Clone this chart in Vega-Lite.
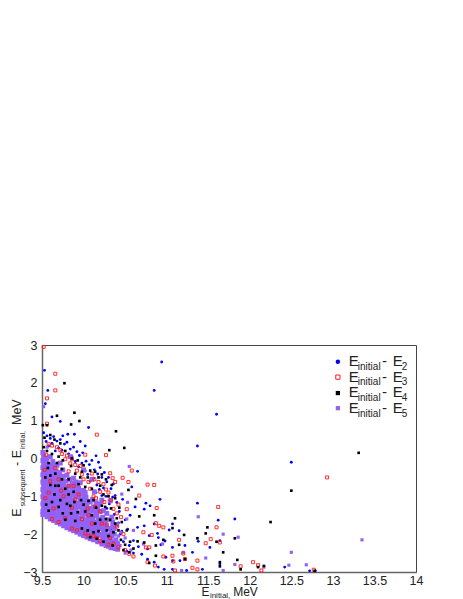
{"$schema":"https://vega.github.io/schema/vega-lite/v6.json","width":374,"height":227,"autosize":"none","padding":{"left":42,"top":345,"right":47,"bottom":27},"background":"white","config":{"view":{"stroke":"#444","strokeWidth":1},"font":"Liberation Sans"},
"datasets":{
"e2":[{"x":10.94,"y":2.55},{"x":10.85,"y":1.8},{"x":11.6,"y":1.17},{"x":11.37,"y":0.33},{"x":9.53,"y":2.33},{"x":9.57,"y":1.8},{"x":9.54,"y":1.45},{"x":9.62,"y":1.1},{"x":9.72,"y":0.98},{"x":10.06,"y":0.82},{"x":9.89,"y":0.64},{"x":9.81,"y":0.64},{"x":9.75,"y":0.6},{"x":9.96,"y":0.45},{"x":10.02,"y":0.33},{"x":10.15,"y":0.07},{"x":10.18,"y":-0.1},{"x":10.65,"y":-0.34},{"x":10.75,"y":-1.18},{"x":10.92,"y":-1.08},{"x":10.8,"y":-1.25},{"x":10.73,"y":-1.34},{"x":11.37,"y":-1.18},{"x":11.62,"y":-1.63},{"x":11.07,"y":-1.73},{"x":11.03,"y":-1.89},{"x":10.85,"y":-1.73},{"x":10.89,"y":-1.98},{"x":10.73,"y":-1.78},{"x":10.65,"y":-1.82},{"x":10.79,"y":-2.04},{"x":10.9,"y":-2.09},{"x":10.98,"y":-2.18},{"x":10.93,"y":-2.28},{"x":11.15,"y":-1.91},{"x":11.22,"y":-2.3},{"x":11.07,"y":-2.35},{"x":11.31,"y":-2.48},{"x":11.38,"y":-2.19},{"x":11.52,"y":-2.35},{"x":11.64,"y":-2.17},{"x":10.77,"y":-2.39},{"x":10.7,"y":-2.53},{"x":10.77,"y":-2.66},{"x":10.99,"y":-2.61},{"x":10.85,"y":-2.74},{"x":10.9,"y":-2.87},{"x":11.07,"y":-2.7},{"x":11.16,"y":-2.7},{"x":11.07,"y":-2.93},{"x":11.24,"y":-2.96},{"x":11.43,"y":-2.93},{"x":11.64,"y":-2.79},{"x":10.97,"y":-2.93},{"x":12.5,"y":-0.1},{"x":11.82,"y":-1.6},{"x":12.42,"y":-2.87},{"x":12.72,"y":-2.97},{"x":12.79,"y":-2.97},{"x":9.52,"y":0.68},{"x":9.56,"y":0.6},{"x":9.6,"y":0.53},{"x":9.64,"y":0.58},{"x":9.68,"y":0.46},{"x":9.72,"y":0.5},{"x":9.77,"y":0.38},{"x":9.8,"y":0.43},{"x":9.84,"y":0.25},{"x":9.88,"y":0.3},{"x":9.92,"y":0.18},{"x":9.95,"y":0.08},{"x":9.99,"y":0.15},{"x":10.03,"y":-0.07},{"x":10.07,"y":-0.16},{"x":10.1,"y":-0.05},{"x":10.13,"y":-0.3},{"x":10.17,"y":-0.41},{"x":10.2,"y":-0.24},{"x":10.22,"y":-0.5},{"x":10.25,"y":-0.37},{"x":10.28,"y":-0.62},{"x":10.3,"y":-0.5},{"x":10.33,"y":-0.8},{"x":10.36,"y":-0.67},{"x":10.38,"y":-0.98},{"x":10.4,"y":-1.16},{"x":10.43,"y":-1.4},{"x":10.47,"y":-1.08},{"x":10.5,"y":-1.62},{"x":10.53,"y":-1.87},{"x":10.56,"y":-1.5},{"x":10.6,"y":-2.17},{"x":10.62,"y":-1.28},{"x":10.66,"y":-2.33},{"x":10.44,"y":-2.0},{"x":10.4,"y":-2.26},{"x":10.34,"y":-1.86},{"x":10.28,"y":-1.32},{"x":10.22,"y":-0.98},{"x":10.16,"y":-0.7},{"x":10.52,"y":-2.45},{"x":10.6,"y":-2.5},{"x":10.58,"y":-0.75},{"x":9.58,"y":0.33},{"x":9.7,"y":0.28},{"x":9.74,"y":0.22},{"x":9.82,"y":0.12},{"x":9.86,"y":0.05},{"x":9.9,"y":-0.08},{"x":9.94,"y":-0.22},{"x":9.98,"y":-0.12},{"x":10.02,"y":-0.33},{"x":10.05,"y":-0.42},{"x":10.08,"y":-0.6},{"x":10.12,"y":-0.52},{"x":10.15,"y":-0.9},{"x":10.19,"y":-0.82},{"x":10.24,"y":-0.78},{"x":10.27,"y":-1.0},{"x":10.31,"y":-1.2},{"x":10.35,"y":-1.02},{"x":10.37,"y":-1.48},{"x":10.42,"y":-1.7},{"x":10.46,"y":-1.92},{"x":10.48,"y":-2.2},{"x":10.55,"y":-2.3},{"x":9.55,"y":0.45},{"x":9.62,"y":0.4},{"x":9.66,"y":0.2}],
"e5":[{"x":9.51,"y":-1.48},{"x":9.51,"y":-1.39},{"x":9.52,"y":-1.3},{"x":9.51,"y":-1.2},{"x":9.52,"y":-1.1},{"x":9.51,"y":-1.01},{"x":9.52,"y":-0.91},{"x":9.51,"y":-0.82},{"x":9.52,"y":-0.72},{"x":9.51,"y":-0.62},{"x":9.52,"y":-0.53},{"x":9.51,"y":-0.43},{"x":9.52,"y":-0.34},{"x":9.51,"y":-0.24},{"x":9.52,"y":-0.14},{"x":9.51,"y":-0.05},{"x":9.52,"y":0.06},{"x":9.51,"y":0.16},{"x":9.56,"y":-1.54},{"x":9.55,"y":-1.45},{"x":9.56,"y":-1.35},{"x":9.55,"y":-1.26},{"x":9.56,"y":-1.16},{"x":9.55,"y":-1.06},{"x":9.56,"y":-0.97},{"x":9.55,"y":-0.87},{"x":9.56,"y":-0.78},{"x":9.55,"y":-0.68},{"x":9.56,"y":-0.58},{"x":9.55,"y":-0.49},{"x":9.56,"y":-0.39},{"x":9.55,"y":-0.3},{"x":9.56,"y":-0.2},{"x":9.55,"y":-0.1},{"x":9.56,"y":0.0},{"x":9.6,"y":-1.6},{"x":9.6,"y":-1.51},{"x":9.59,"y":-1.41},{"x":9.6,"y":-1.31},{"x":9.59,"y":-1.22},{"x":9.6,"y":-1.12},{"x":9.59,"y":-1.03},{"x":9.6,"y":-0.93},{"x":9.59,"y":-0.83},{"x":9.6,"y":-0.74},{"x":9.59,"y":-0.64},{"x":9.6,"y":-0.55},{"x":9.59,"y":-0.45},{"x":9.6,"y":-0.35},{"x":9.59,"y":-0.26},{"x":9.6,"y":-0.16},{"x":9.6,"y":0.05},{"x":9.64,"y":-1.64},{"x":9.64,"y":-1.55},{"x":9.63,"y":-1.45},{"x":9.64,"y":-1.36},{"x":9.63,"y":-1.26},{"x":9.64,"y":-1.16},{"x":9.63,"y":-1.07},{"x":9.64,"y":-0.97},{"x":9.63,"y":-0.88},{"x":9.64,"y":-0.78},{"x":9.63,"y":-0.68},{"x":9.64,"y":-0.59},{"x":9.63,"y":-0.49},{"x":9.64,"y":-0.4},{"x":9.63,"y":-0.3},{"x":9.64,"y":-0.2},{"x":9.63,"y":-0.08},{"x":9.68,"y":-1.69},{"x":9.68,"y":-1.6},{"x":9.67,"y":-1.5},{"x":9.68,"y":-1.4},{"x":9.67,"y":-1.31},{"x":9.68,"y":-1.21},{"x":9.67,"y":-1.12},{"x":9.68,"y":-1.02},{"x":9.67,"y":-0.92},{"x":9.68,"y":-0.83},{"x":9.67,"y":-0.73},{"x":9.68,"y":-0.64},{"x":9.67,"y":-0.54},{"x":9.68,"y":-0.44},{"x":9.67,"y":-0.33},{"x":9.68,"y":-0.18},{"x":9.72,"y":-1.73},{"x":9.72,"y":-1.64},{"x":9.71,"y":-1.54},{"x":9.72,"y":-1.44},{"x":9.71,"y":-1.35},{"x":9.72,"y":-1.25},{"x":9.71,"y":-1.16},{"x":9.72,"y":-1.06},{"x":9.71,"y":-0.96},{"x":9.72,"y":-0.87},{"x":9.71,"y":-0.77},{"x":9.72,"y":-0.68},{"x":9.71,"y":-0.58},{"x":9.72,"y":-0.48},{"x":9.71,"y":-0.37},{"x":9.72,"y":-0.12},{"x":9.76,"y":-1.78},{"x":9.76,"y":-1.69},{"x":9.75,"y":-1.59},{"x":9.76,"y":-1.49},{"x":9.75,"y":-1.4},{"x":9.76,"y":-1.3},{"x":9.75,"y":-1.21},{"x":9.76,"y":-1.11},{"x":9.75,"y":-1.01},{"x":9.76,"y":-0.92},{"x":9.75,"y":-0.82},{"x":9.76,"y":-0.72},{"x":9.75,"y":-0.6},{"x":9.76,"y":-0.47},{"x":9.75,"y":-0.3},{"x":9.8,"y":-1.83},{"x":9.8,"y":-1.73},{"x":9.79,"y":-1.64},{"x":9.8,"y":-1.54},{"x":9.79,"y":-1.44},{"x":9.8,"y":-1.35},{"x":9.79,"y":-1.25},{"x":9.8,"y":-1.16},{"x":9.79,"y":-1.06},{"x":9.8,"y":-0.96},{"x":9.79,"y":-0.87},{"x":9.8,"y":-0.75},{"x":9.79,"y":-0.6},{"x":9.8,"y":-0.44},{"x":9.84,"y":-1.87},{"x":9.84,"y":-1.77},{"x":9.83,"y":-1.68},{"x":9.84,"y":-1.58},{"x":9.83,"y":-1.49},{"x":9.84,"y":-1.39},{"x":9.83,"y":-1.29},{"x":9.84,"y":-1.2},{"x":9.83,"y":-1.1},{"x":9.84,"y":-1.0},{"x":9.83,"y":-0.88},{"x":9.84,"y":-0.74},{"x":9.83,"y":-0.55},{"x":9.88,"y":-1.91},{"x":9.88,"y":-1.82},{"x":9.87,"y":-1.72},{"x":9.88,"y":-1.62},{"x":9.87,"y":-1.53},{"x":9.88,"y":-1.43},{"x":9.87,"y":-1.33},{"x":9.88,"y":-1.22},{"x":9.87,"y":-1.1},{"x":9.88,"y":-0.96},{"x":9.87,"y":-0.8},{"x":9.88,"y":-0.52},{"x":9.92,"y":-1.95},{"x":9.92,"y":-1.86},{"x":9.91,"y":-1.76},{"x":9.92,"y":-1.67},{"x":9.91,"y":-1.56},{"x":9.92,"y":-1.45},{"x":9.91,"y":-1.32},{"x":9.92,"y":-1.18},{"x":9.91,"y":-1.02},{"x":9.92,"y":-0.85},{"x":9.91,"y":-0.62},{"x":9.96,"y":-2.0},{"x":9.96,"y":-1.9},{"x":9.95,"y":-1.8},{"x":9.96,"y":-1.69},{"x":9.95,"y":-1.58},{"x":9.96,"y":-1.44},{"x":9.95,"y":-1.28},{"x":9.96,"y":-1.1},{"x":9.95,"y":-0.92},{"x":9.96,"y":-0.64},{"x":10.0,"y":-2.04},{"x":10.0,"y":-1.94},{"x":9.99,"y":-1.83},{"x":10.0,"y":-1.7},{"x":9.99,"y":-1.55},{"x":10.0,"y":-1.38},{"x":9.99,"y":-1.2},{"x":10.0,"y":-0.98},{"x":10.04,"y":-2.08},{"x":10.04,"y":-1.97},{"x":10.03,"y":-1.82},{"x":10.04,"y":-1.65},{"x":10.03,"y":-1.46},{"x":10.04,"y":-1.24},{"x":10.03,"y":-1.02},{"x":10.08,"y":-2.12},{"x":10.08,"y":-2.02},{"x":10.07,"y":-1.86},{"x":10.08,"y":-1.68},{"x":10.07,"y":-1.45},{"x":10.08,"y":-1.15},{"x":10.12,"y":-2.15},{"x":10.13,"y":-2.0},{"x":10.12,"y":-1.78},{"x":10.13,"y":-1.52},{"x":10.12,"y":-1.28},{"x":10.13,"y":-0.88},{"x":10.17,"y":-2.2},{"x":10.18,"y":-2.03},{"x":10.17,"y":-1.83},{"x":10.18,"y":-1.6},{"x":10.17,"y":-1.3},{"x":10.22,"y":-2.26},{"x":10.23,"y":-2.08},{"x":10.22,"y":-1.85},{"x":10.23,"y":-1.55},{"x":10.22,"y":-1.1},{"x":10.27,"y":-2.3},{"x":10.28,"y":-2.1},{"x":10.27,"y":-1.78},{"x":10.28,"y":-1.45},{"x":10.33,"y":-2.36},{"x":10.32,"y":-2.16},{"x":10.33,"y":-1.94},{"x":10.34,"y":-1.55},{"x":10.32,"y":-1.12},{"x":10.38,"y":-2.38},{"x":10.39,"y":-2.15},{"x":10.4,"y":-1.75},{"x":10.44,"y":-2.3},{"x":10.45,"y":-1.95},{"x":10.46,"y":-0.94},{"x":10.5,"y":-2.5},{"x":10.5,"y":-2.1},{"x":10.53,"y":-1.16},{"x":10.55,"y":-0.21},{"x":10.57,"y":-2.42},{"x":10.6,"y":-1.9},{"x":10.52,"y":-1.6},{"x":11.38,"y":-1.54},{"x":11.47,"y":-2.63},{"x":11.2,"y":-2.48},{"x":11.68,"y":-2.96},{"x":11.68,"y":-2},{"x":10.95,"y":-2.26},{"x":10.72,"y":-2.26},{"x":11.18,"y":-2.96},{"x":11.86,"y":-2.08},{"x":12.5,"y":-2.48},{"x":13.35,"y":-2.15},{"x":11.82,"y":-2.8},{"x":12.17,"y":-2.87},{"x":12.47,"y":-2.82},{"x":12.68,"y":-2.81},{"x":9.52,"y":1.37},{"x":9.56,"y":0.3},{"x":9.84,"y":0.05},{"x":10.0,"y":-0.3},{"x":10.1,"y":-0.55},{"x":10.01,"y":-1.12},{"x":10.0,"y":-0.85},{"x":10.01,"y":-1.3},{"x":10.01,"y":-1.47},{"x":10.02,"y":-1.62},{"x":10.01,"y":-1.77},{"x":10.05,"y":-1.92},{"x":10.05,"y":-1.74},{"x":10.06,"y":-1.55},{"x":10.05,"y":-1.35},{"x":10.06,"y":-1.13},{"x":10.09,"y":-1.94},{"x":10.09,"y":-1.77},{"x":10.09,"y":-1.57},{"x":10.09,"y":-1.32},{"x":10.11,"y":-2.06},{"x":10.11,"y":-1.88},{"x":10.11,"y":-1.62},{"x":10.11,"y":-1.38},{"x":10.11,"y":-1.08},{"x":10.15,"y":-2.08},{"x":10.15,"y":-1.9},{"x":10.15,"y":-1.68},{"x":10.15,"y":-1.42},{"x":10.15,"y":-1.17},{"x":10.16,"y":-2.14},{"x":10.16,"y":-1.95},{"x":10.16,"y":-1.74},{"x":10.16,"y":-1.5},{"x":10.2,"y":-2.2},{"x":10.2,"y":-2.0},{"x":10.2,"y":-1.78},{"x":10.2,"y":-1.68},{"x":10.2,"y":-1.4},{"x":10.2,"y":-1.2},{"x":10.24,"y":-2.18},{"x":10.24,"y":-1.98},{"x":10.24,"y":-1.72},{"x":10.24,"y":-1.62},{"x":10.24,"y":-1.38},{"x":10.26,"y":-2.24},{"x":10.26,"y":-2.0},{"x":10.26,"y":-1.88},{"x":10.26,"y":-1.65},{"x":10.3,"y":-2.32},{"x":10.3,"y":-2.2},{"x":10.3,"y":-2.02},{"x":10.3,"y":-1.85},{"x":10.3,"y":-1.62},{"x":10.34,"y":-2.26},{"x":10.34,"y":-2.05},{"x":10.35,"y":-1.8},{"x":10.35,"y":-1.68},{"x":10.36,"y":-2.35},{"x":10.37,"y":-2.2},{"x":10.37,"y":-2.0},{"x":10.37,"y":-1.85},{"x":10.41,"y":-2.4},{"x":10.41,"y":-2.25},{"x":10.42,"y":-2.05},{"x":9.86,"y":-0.95},{"x":9.86,"y":-0.65},{"x":9.9,"y":-1.2},{"x":9.9,"y":-0.92},{"x":9.9,"y":-0.72},{"x":9.94,"y":-1.22},{"x":9.94,"y":-1.0},{"x":9.94,"y":-0.78},{"x":9.98,"y":-1.32},{"x":9.98,"y":-1.08},{"x":9.98,"y":-0.85},{"x":10.02,"y":-0.9}],
"e3":[{"x":9.52,"y":2.95},{"x":9.66,"y":2.24},{"x":9.66,"y":1.8},{"x":9.56,"y":1.59},{"x":9.56,"y":0.92},{"x":10.16,"y":0.63},{"x":10.27,"y":0.09},{"x":10.32,"y":-0.39},{"x":10.47,"y":-0.51},{"x":10.58,"y":-0.32},{"x":10.54,"y":-0.62},{"x":10.77,"y":-0.69},{"x":10.85,"y":-0.7},{"x":10.67,"y":-0.98},{"x":10.88,"y":-1.31},{"x":11.62,"y":-1.28},{"x":10.52,"y":-1.34},{"x":11.6,"y":-1.82},{"x":10.87,"y":-1.71},{"x":10.91,"y":-1.78},{"x":10.96,"y":-1.82},{"x":10.72,"y":-1.95},{"x":10.82,"y":-2.02},{"x":11.15,"y":-2.15},{"x":11.53,"y":-2.13},{"x":11.47,"y":-2.24},{"x":11.64,"y":-2.22},{"x":10.75,"y":-2.35},{"x":10.79,"y":-2.35},{"x":10.96,"y":-2.59},{"x":11.07,"y":-2.57},{"x":11.08,"y":-2.72},{"x":11.22,"y":-2.66},{"x":11.2,"y":-2.51},{"x":11.37,"y":-2.7},{"x":10.77,"y":-2.74},{"x":10.86,"y":-2.83},{"x":11.1,"y":-2.96},{"x":11.31,"y":-2.89},{"x":11.37,"y":-2.93},{"x":10.6,"y":-2.59},{"x":10.5,"y":-2.42},{"x":12.93,"y":-0.5},{"x":11.89,"y":-2.85},{"x":12.04,"y":-2.74},{"x":12.1,"y":-2.82},{"x":12.14,"y":-2.96},{"x":12.77,"y":-2.94},{"x":9.58,"y":0.38},{"x":9.62,"y":0.34},{"x":9.68,"y":0.3},{"x":9.74,"y":0.12},{"x":9.8,"y":0.08},{"x":9.86,"y":-0.02},{"x":9.9,"y":-0.17},{"x":9.96,"y":-0.2},{"x":10.02,"y":0.1},{"x":10.1,"y":-0.4},{"x":10.18,"y":-0.62},{"x":10.24,"y":-0.68},{"x":10.35,"y":-0.52},{"x":10.38,"y":-0.62},{"x":10.42,"y":-1.22},{"x":10.45,"y":-1.55},{"x":10.3,"y":-0.9},{"x":10.15,"y":-1.05},{"x":10.12,"y":-1.0},{"x":10.08,"y":-0.8},{"x":10.05,"y":-1.32},{"x":9.98,"y":-0.42},{"x":9.94,"y":-0.95},{"x":9.88,"y":-0.72},{"x":9.82,"y":-0.34},{"x":9.76,"y":-1.0},{"x":9.7,"y":-0.55},{"x":9.64,"y":-1.32},{"x":9.58,"y":-0.9},{"x":9.53,"y":-0.3},{"x":9.55,"y":0.1},{"x":9.78,"y":-1.58},{"x":9.92,"y":-1.9},{"x":10.02,"y":-1.98},{"x":10.12,"y":-2.05},{"x":10.2,"y":-2.18},{"x":10.3,"y":-2.28},{"x":10.36,"y":-2.25},{"x":10.42,"y":-2.35},{"x":10.55,"y":-2.52},{"x":10.48,"y":-2.0},{"x":10.28,"y":-1.75},{"x":10.2,"y":-1.4},{"x":10.1,"y":-1.72},{"x":9.98,"y":-1.6},{"x":9.86,"y":-1.3},{"x":10.4,"y":-1.8},{"x":10.36,"y":-1.33},{"x":10.25,"y":-1.15},{"x":9.72,"y":0.22},{"x":9.78,"y":-0.02},{"x":9.84,"y":-0.13},{"x":9.92,"y":-0.32},{"x":10.0,"y":-0.55},{"x":10.06,"y":-0.62},{"x":10.13,"y":-0.55},{"x":10.2,"y":-0.88},{"x":10.27,"y":-0.82},{"x":10.33,"y":-1.1},{"x":10.4,"y":-1.45},{"x":10.14,"y":-1.28},{"x":10.22,"y":-1.72},{"x":10.32,"y":-2.1},{"x":10.16,"y":-2.1},{"x":10.06,"y":-1.5},{"x":9.9,"y":-1.08},{"x":9.82,"y":-0.72},{"x":9.73,"y":-0.85},{"x":9.66,"y":-0.25},{"x":9.6,"y":-0.6},{"x":9.54,"y":-1.05},{"x":9.62,"y":-1.6},{"x":9.7,"y":-1.68},{"x":9.86,"y":-1.85},{"x":10.06,"y":-2.05}],
"e4":[{"x":9.77,"y":1.99},{"x":9.89,"y":1.21},{"x":9.68,"y":1.13},{"x":9.95,"y":0.99},{"x":9.85,"y":0.9},{"x":9.56,"y":0.88},{"x":9.51,"y":0.88},{"x":10.39,"y":0.72},{"x":10.49,"y":0.28},{"x":10.31,"y":0.22},{"x":10.63,"y":-1.07},{"x":10.54,"y":-0.83},{"x":10.85,"y":-1.5},{"x":10.67,"y":-1.53},{"x":11.1,"y":-1.58},{"x":11.49,"y":-1.82},{"x":11.21,"y":-2.02},{"x":11.37,"y":-2.11},{"x":11.07,"y":-1.84},{"x":11.47,"y":-1.98},{"x":10.96,"y":-2.15},{"x":11.6,"y":-2.2},{"x":11.15,"y":-2.28},{"x":10.87,"y":-2.3},{"x":11.68,"y":-2.48},{"x":11.64,"y":-2.74},{"x":11.64,"y":-2.85},{"x":10.87,"y":-2.57},{"x":10.79,"y":-2.76},{"x":11.22,"y":-2.66},{"x":10.73,"y":-2.22},{"x":10.65,"y":-2.19},{"x":13.31,"y":0.15},{"x":12.5,"y":-0.85},{"x":12.25,"y":-1.68},{"x":11.82,"y":-2.11},{"x":11.85,"y":-2.68},{"x":11.89,"y":-2.93},{"x":12.1,"y":-2.87},{"x":12.17,"y":-2.84},{"x":12.78,"y":-2.97},{"x":9.53,"y":0.55},{"x":9.6,"y":0.62},{"x":9.65,"y":0.5},{"x":9.72,"y":0.4},{"x":9.78,"y":0.2},{"x":9.7,"y":0.05},{"x":9.62,"y":0.12},{"x":9.54,"y":-0.5},{"x":9.6,"y":-0.7},{"x":9.57,"y":-0.25},{"x":9.65,"y":-0.95},{"x":9.7,"y":-0.72},{"x":9.66,"y":-0.4},{"x":9.74,"y":-0.28},{"x":9.78,"y":-0.8},{"x":9.82,"y":-0.55},{"x":9.85,"y":-0.2},{"x":9.9,"y":-0.4},{"x":9.93,"y":-0.05},{"x":9.96,"y":-0.5},{"x":10.0,"y":-0.18},{"x":10.05,"y":-0.5},{"x":10.1,"y":-0.8},{"x":10.14,"y":-0.35},{"x":10.2,"y":-0.72},{"x":10.22,"y":-0.42},{"x":10.27,"y":-0.55},{"x":10.3,"y":-1.0},{"x":10.34,"y":-0.7},{"x":10.38,"y":-1.05},{"x":10.43,"y":-1.3},{"x":10.4,"y":-1.58},{"x":10.46,"y":-1.68},{"x":10.52,"y":-1.9},{"x":10.56,"y":-2.2},{"x":10.5,"y":-2.28},{"x":10.55,"y":-2.48},{"x":10.6,"y":-2.38},{"x":10.45,"y":-2.15},{"x":10.36,"y":-1.95},{"x":10.32,"y":-1.62},{"x":10.26,"y":-1.28},{"x":10.2,"y":-1.62},{"x":10.15,"y":-1.3},{"x":10.1,"y":-1.5},{"x":10.06,"y":-1.12},{"x":10.02,"y":-1.4},{"x":9.97,"y":-1.1},{"x":9.93,"y":-1.42},{"x":9.89,"y":-1.15},{"x":9.85,"y":-1.45},{"x":9.8,"y":-1.2},{"x":9.75,"y":-1.45},{"x":9.7,"y":-1.28},{"x":9.62,"y":-1.15},{"x":9.55,"y":-1.22},{"x":9.58,"y":-1.38},{"x":9.9,"y":-1.65},{"x":9.98,"y":-1.85},{"x":10.05,"y":-1.9},{"x":10.12,"y":-1.95},{"x":10.18,"y":-1.92},{"x":10.24,"y":-2.2},{"x":10.3,"y":-2.05},{"x":10.35,"y":-2.3},{"x":10.28,"y":-1.9},{"x":10.16,"y":-2.12},{"x":10.08,"y":-2.08},{"x":9.82,"y":-0.95},{"x":9.74,"y":-0.55},{"x":9.68,"y":-0.12},{"x":9.6,"y":-0.45},{"x":9.52,"y":0.3},{"x":9.56,"y":0.2},{"x":9.75,"y":-0.05},{"x":9.86,"y":0.0},{"x":9.98,"y":-0.35},{"x":10.08,"y":-0.32},{"x":10.18,"y":-0.5},{"x":10.24,"y":-0.95},{"x":10.33,"y":-1.32},{"x":10.38,"y":-1.72},{"x":10.12,"y":-1.1},{"x":10.02,"y":-0.75},{"x":9.94,"y":-0.68},{"x":9.88,"y":-0.88},{"x":9.84,"y":-1.25},{"x":9.78,"y":-1.62},{"x":9.66,"y":-0.72},{"x":9.58,"y":-0.12},{"x":9.72,"y":-1.1},{"x":10.0,"y":-1.22},{"x":10.22,"y":-1.25},{"x":10.14,"y":-1.72},{"x":10.27,"y":-1.6},{"x":10.42,"y":-1.9},{"x":10.48,"y":-2.42}],
"majorx":[{"x":9.5},{"x":10},{"x":10.5},{"x":11},{"x":11.5},{"x":12},{"x":12.5},{"x":13},{"x":13.5},{"x":14}],
"majory":[{"y":-3},{"y":-2},{"y":-1},{"y":0},{"y":1},{"y":2},{"y":3}],
"minorx":[{"x":9.6},{"x":9.7},{"x":9.8},{"x":9.9},{"x":10.1},{"x":10.2},{"x":10.3},{"x":10.4},{"x":10.6},{"x":10.7},{"x":10.8},{"x":10.9},{"x":11.1},{"x":11.2},{"x":11.3},{"x":11.4},{"x":11.6},{"x":11.7},{"x":11.8},{"x":11.9},{"x":12.1},{"x":12.2},{"x":12.3},{"x":12.4},{"x":12.6},{"x":12.7},{"x":12.8},{"x":12.9},{"x":13.1},{"x":13.2},{"x":13.3},{"x":13.4},{"x":13.6},{"x":13.7},{"x":13.8},{"x":13.9}],
"minory":[{"y":2.8},{"y":2.6},{"y":2.4},{"y":2.2},{"y":1.8},{"y":1.6},{"y":1.4},{"y":1.2},{"y":0.8},{"y":0.6},{"y":0.4},{"y":0.2},{"y":-0.2},{"y":-0.4},{"y":-0.6},{"y":-0.8},{"y":-1.2},{"y":-1.4},{"y":-1.6},{"y":-1.8},{"y":-2.2},{"y":-2.4},{"y":-2.6},{"y":-2.8}],
"big":[{"x":13.19,"y":2.445,"t":"E"},{"x":13.59,"y":2.445,"t":"-"},{"x":13.72,"y":2.445,"t":"E"},{"x":13.19,"y":2.035,"t":"E"},{"x":13.59,"y":2.035,"t":"-"},{"x":13.72,"y":2.035,"t":"E"},{"x":13.19,"y":1.625,"t":"E"},{"x":13.59,"y":1.625,"t":"-"},{"x":13.72,"y":1.625,"t":"E"},{"x":13.19,"y":1.215,"t":"E"},{"x":13.59,"y":1.215,"t":"-"},{"x":13.72,"y":1.215,"t":"E"}],
"sub":[{"x":13.3,"y":2.34,"t":"initial"},{"x":13.83,"y":2.34,"t":"2"},{"x":13.3,"y":1.93,"t":"initial"},{"x":13.83,"y":1.93,"t":"3"},{"x":13.3,"y":1.52,"t":"initial"},{"x":13.83,"y":1.52,"t":"4"},{"x":13.3,"y":1.11,"t":"initial"},{"x":13.83,"y":1.11,"t":"5"}],
"xt":[{"x":11.42,"y":-3.63,"t":"E"},{"x":11.8,"y":-3.63,"t":"MeV"}],
"xs":[{"x":11.52,"y":-3.68,"t":"initial,"}],
"yt":[{"x":9.247,"y":-1.538,"t":"E"},{"x":9.247,"y":-0.2,"t":"-"},{"x":9.247,"y":0.005,"t":"E"},{"x":9.247,"y":0.885,"t":"MeV"}],
"ys":[{"x":9.29,"y":-1.27,"t":"subsequent"},{"x":9.29,"y":0.243,"t":"initial,"}],
"lg":[{"x":13.06,"y":2.56,"k":"E2"},{"x":13.06,"y":2.15,"k":"E3"},{"x":13.06,"y":1.73,"k":"E4"},{"x":13.06,"y":1.33,"k":"E5"}]
},
"encoding":{"x":{"field":"x","type":"quantitative","scale":{"domain":[9.5,14],"nice":false,"zero":false},"axis":{"title":null,"values":[9.5,10,10.5,11,11.5,12,12.5,13,13.5,14],"format":"~g","grid":false,"ticks":false,"domainColor":"#666","domainWidth":1.5,"labelFont":"Liberation Sans","labelFontSize":12.5,"labelColor":"#222","labelPadding":2,"labelFlush":false,"labelOverlap":false}},"y":{"field":"y","type":"quantitative","scale":{"domain":[-3,3],"nice":false,"zero":false},"axis":{"title":null,"values":[-3,-2,-1,0,1,2,3],"format":"~g","grid":false,"ticks":false,"domainColor":"#666","domainWidth":1.5,"labelFont":"Liberation Sans","labelFontSize":12.5,"labelColor":"#222","labelPadding":5,"labelFlush":false,"labelOverlap":false}}},
"layer":[
{"data":{"name":"e2"},"mark":{"type":"circle","color":"#0000ff","size":8,"opacity":1}},
{"data":{"name":"e5"},"transform":[{"filter":"datum.x<10.42 && datum.y<0.2"}],"mark":{"type":"square","color":"#9262f6","size":24,"opacity":1}},
{"data":{"name":"e5"},"transform":[{"filter":"datum.x>=10.42 || datum.y>=0.2"}],"mark":{"type":"square","color":"#9262f6","size":10,"opacity":1}},
{"data":{"name":"e3"},"mark":{"type":"square","filled":false,"color":"#ff1a1a","size":9,"strokeWidth":0.9,"opacity":1}},
{"data":{"name":"e4"},"mark":{"type":"square","color":"#000000","size":7,"opacity":1}},
{"data":{"name":"minorx"},"mark":{"type":"rule","color":"#555","strokeWidth":1},"encoding":{"y":{"datum":-3},"y2":{"datum":-2.905}}},
{"data":{"name":"minory"},"mark":{"type":"rule","color":"#555","strokeWidth":1},"encoding":{"x":{"datum":9.5},"x2":{"datum":9.566}}},
{"data":{"name":"majorx"},"mark":{"type":"rule","color":"#555","strokeWidth":1},"encoding":{"y":{"datum":-3},"y2":{"datum":-2.815}}},
{"data":{"name":"majory"},"mark":{"type":"rule","color":"#555","strokeWidth":1},"encoding":{"x":{"datum":9.5},"x2":{"datum":9.632}}},
{"data":{"name":"lg"},"transform":[{"filter":"datum.k=='E2'"}],"mark":{"type":"circle","color":"#0000ff","size":20,"opacity":1}},
{"data":{"name":"lg"},"transform":[{"filter":"datum.k=='E3'"}],"mark":{"type":"square","filled":false,"color":"#ff1a1a","size":18,"strokeWidth":1,"opacity":1}},
{"data":{"name":"lg"},"transform":[{"filter":"datum.k=='E4'"}],"mark":{"type":"square","color":"#000000","size":18,"opacity":1}},
{"data":{"name":"lg"},"transform":[{"filter":"datum.k=='E5'"}],"mark":{"type":"square","color":"#9262f6","size":18,"opacity":1}},
{"data":{"name":"big"},"mark":{"type":"text","font":"Liberation Sans","fontSize":15,"align":"left","baseline":"alphabetic","color":"#222"},"encoding":{"text":{"field":"t"}}},
{"data":{"name":"sub"},"mark":{"type":"text","font":"Liberation Sans","fontSize":10,"align":"left","baseline":"alphabetic","color":"#222"},"encoding":{"text":{"field":"t"}}},
{"data":{"name":"xt"},"mark":{"type":"text","font":"Liberation Sans","fontSize":12,"align":"left","baseline":"alphabetic","color":"#222"},"encoding":{"text":{"field":"t"}}},
{"data":{"name":"xs"},"mark":{"type":"text","font":"Liberation Sans","fontSize":8,"align":"left","baseline":"alphabetic","color":"#222"},"encoding":{"text":{"field":"t"}}},
{"data":{"name":"yt"},"mark":{"type":"text","font":"Liberation Sans","fontSize":12.5,"angle":270,"align":"left","baseline":"alphabetic","color":"#222"},"encoding":{"text":{"field":"t"}}},
{"data":{"name":"ys"},"mark":{"type":"text","font":"Liberation Sans","fontSize":7.2,"angle":270,"align":"left","baseline":"alphabetic","color":"#222"},"encoding":{"text":{"field":"t"}}}
]}
